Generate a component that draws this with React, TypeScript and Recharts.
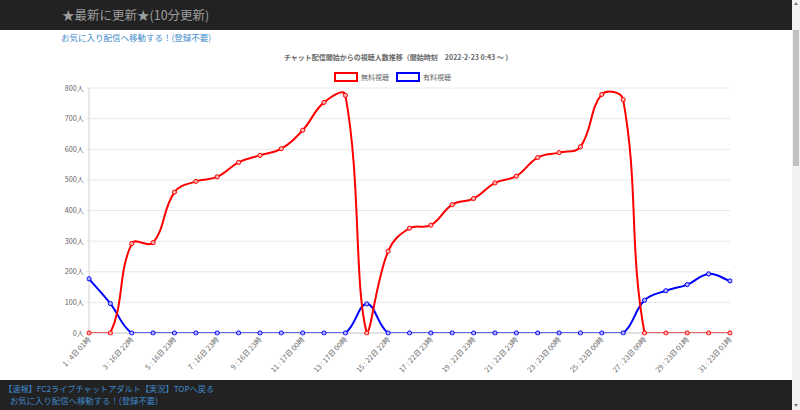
import { CartesianGrid, Line, LineChart, XAxis, YAxis } from "recharts";

const slots = [
  "1 : 4日 01時", "2 : 16日 22時", "3 : 16日 22時", "4 : 16日 22時", "5 : 16日 23時",
  "6 : 16日 23時", "7 : 16日 23時", "8 : 16日 23時", "9 : 16日 23時", "10 : 17日 00時",
  "11 : 17日 00時", "12 : 17日 00時", "13 : 17日 00時", "14 : 17日 00時", "15 : 22日 22時",
  "16 : 22日 22時", "17 : 22日 23時", "18 : 22日 23時", "19 : 22日 23時", "20 : 22日 23時",
  "21 : 22日 23時", "22 : 23日 00時", "23 : 23日 00時", "24 : 23日 00時", "25 : 23日 00時",
  "26 : 23日 00時", "27 : 23日 00時", "28 : 23日 01時", "29 : 23日 01時", "30 : 23日 01時",
  "31 : 23日 01時"
];

const freeViewers = [
  0, 0, 292, 295, 460, 495, 510, 557, 580, 602,
  662, 753, 776, 0, 267, 342, 352, 419, 439, 490,
  512, 573, 589, 608, 779, 762, 0, 0, 0, 0, 0
];

const paidViewers = [
  177, 96, 0, 0, 0, 0, 0, 0, 0, 0,
  0, 0, 0, 95, 0, 0, 0, 0, 0, 0,
  0, 0, 0, 0, 0, 0, 107, 138, 158, 193, 170
];

const yTicks = [0, 100, 200, 300, 400, 500, 600, 700, 800];

const rows = slots.map((slot, i) => ({ slot, free: freeViewers[i], paid: paidViewers[i] }));

const red = "#ff0000";
const blue = "#0000ff";
const muted = "#666666";
const grid = "#e8e8e8";
const font = "'Noto Sans CJK JP', 'Noto Sans', sans-serif";

// chart.js (v2) style spline: tension 0.4, control points capped to the drawn range
function splineCurve(context: any) {
  let pts: { x: number; y: number }[] = [];
  return {
    areaStart() {},
    areaEnd() {},
    lineStart() {
      pts = [];
    },
    point(x: number, y: number) {
      pts.push({ x: +x, y: +y });
    },
    lineEnd() {
      if (pts.length === 0) return;
      const t = 0.4;
      const minX = Math.min(...pts.map((p) => p.x));
      const maxX = Math.max(...pts.map((p) => p.x));
      const maxY = Math.max(...pts.map((p) => p.y));
      const capX = (v: number) => Math.max(Math.min(v, maxX), minX);
      const capY = (v: number) => Math.min(v, maxY);
      const cps = pts.map((cur, i) => {
        const prev = pts[i - 1] || cur;
        const next = pts[i + 1] || cur;
        const d01 = Math.hypot(cur.x - prev.x, cur.y - prev.y);
        const d12 = Math.hypot(next.x - cur.x, next.y - cur.y);
        let s01 = d01 / (d01 + d12);
        let s12 = d12 / (d01 + d12);
        if (isNaN(s01)) s01 = 0;
        if (isNaN(s12)) s12 = 0;
        const fa = t * s01;
        const fb = t * s12;
        return {
          px: capX(cur.x - fa * (next.x - prev.x)),
          py: capY(cur.y - fa * (next.y - prev.y)),
          nx: capX(cur.x + fb * (next.x - prev.x)),
          ny: capY(cur.y + fb * (next.y - prev.y))
        };
      });
      context.moveTo(pts[0].x, pts[0].y);
      for (let i = 1; i < pts.length; i++) {
        context.bezierCurveTo(cps[i - 1].nx, cps[i - 1].ny, cps[i].px, cps[i].py, pts[i].x, pts[i].y);
      }
    }
  };
}

function SlotTick({ x, y, payload }: any) {
  return (
    <g transform={`translate(${x},${y})`}>
      <text transform="rotate(-47)" textAnchor="end" dy={3} fontSize={7.2} fill={muted} stroke="none" fontFamily={font}>
        {payload.value}
      </text>
    </g>
  );
}

function verticalLines({ xAxis }: any) {
  const scale = xAxis?.scale;
  if (typeof scale !== "function") return [];
  return slots
    .filter((_, i) => i % 2 === 0)
    .map((s) => scale(s))
    .filter((v: number) => Number.isFinite(v));
}

function LegendBox({ color, label }: { color: string; label: string }) {
  return (
    <span style={{ display: "inline-flex", alignItems: "center", marginRight: 7 }}>
      <span style={{ width: 20, height: 6, border: `2px solid ${color}`, background: "#fff", marginRight: 3 }} />
      <span style={{ fontSize: 7, color: muted }}>{label}</span>
    </span>
  );
}

export default function App() {
  return (
    <div style={{ position: "absolute", left: 0, top: 0, width: 800, height: 410, background: "#fff", overflow: "hidden", fontFamily: font }}>
      <div style={{ position: "absolute", left: 0, top: 0, width: 792, height: 30, background: "#222" }}>
        <div style={{ position: "absolute", left: 62, top: 6, fontSize: 12.5, color: "#9d9d9d", whiteSpace: "nowrap", lineHeight: "18px" }}>
          ★最新に更新★(10分更新)
        </div>
      </div>
      <div style={{ position: "absolute", left: 61, top: 31, fontSize: 8.5, color: "#428bca", whiteSpace: "nowrap", lineHeight: "12px" }}>
        お気に入り配信へ移動する！(登録不要)
      </div>

      <div style={{ position: "absolute", left: 0, top: 52, width: 792, textAlign: "center", fontSize: 7, fontWeight: "bold", color: muted, whiteSpace: "nowrap", lineHeight: "10px" }}>
        チャット配信開始からの視聴人数推移（開始時刻　2022-2-23 0:43 ～ )
      </div>
      <div style={{ position: "absolute", left: 0, top: 72, width: 792, display: "flex", justifyContent: "center", lineHeight: "10px" }}>
        <LegendBox color={red} label="無料視聴" />
        <LegendBox color={blue} label="有料視聴" />
      </div>

      <div style={{ position: "absolute", left: 0, top: 30 }}>
        <LineChart width={792} height={350} data={rows} margin={{ top: 58, right: 62, left: 0, bottom: 0 }}>
          <CartesianGrid stroke={grid} verticalCoordinatesGenerator={verticalLines} />
          <XAxis
            dataKey="slot"
            interval={1}
            height={47}
            tick={<SlotTick />}
            tickSize={4}
            tickMargin={1}
            tickLine={{ stroke: grid }}
            axisLine={{ stroke: "#cfcfcf" }}
          />
          <YAxis
            domain={[0, 800]}
            ticks={yTicks}
            allowDataOverflow
            width={89}
            tickSize={3}
            tickMargin={2}
            tickLine={{ stroke: grid }}
            axisLine={{ stroke: "#cfcfcf" }}
            tick={{ fill: muted, stroke: "none", fontSize: 7.2, fontFamily: font }}
            tickFormatter={(v) => `${v}人`}
          />
          <Line
            dataKey="paid"
            type={splineCurve as any}
            stroke={blue}
            strokeWidth={2}
            dot={{ r: 2.1, stroke: blue, strokeWidth: 1, fill: "#b4b4ff", clipDot: false }}
            activeDot={false}
            isAnimationActive={false}
          />
          <Line
            dataKey="free"
            type={splineCurve as any}
            stroke={red}
            strokeWidth={2}
            dot={{ r: 2.1, stroke: red, strokeWidth: 1, fill: "#ffb4b4", clipDot: false }}
            activeDot={false}
            isAnimationActive={false}
          />
        </LineChart>
      </div>

      <div style={{ position: "absolute", left: 0, top: 380, width: 792, height: 30, background: "#222" }}>
        <div style={{ position: "absolute", left: 4, top: 2, fontSize: 8.2, color: "#3f87c8", whiteSpace: "nowrap", lineHeight: "12px" }}>
          【速報】FC2ライブチャットアダルト【実況】TOPへ戻る
        </div>
        <div style={{ position: "absolute", left: 10, top: 14, fontSize: 8.4, color: "#3f87c8", whiteSpace: "nowrap", lineHeight: "12px" }}>
          お気に入り配信へ移動する！(登録不要)
        </div>
      </div>

      <div style={{ position: "absolute", left: 792, top: 0, width: 8, height: 410, background: "#f1f1f1" }}>
        <div style={{ position: "absolute", left: 1, top: 30, width: 6, height: 136, background: "#c1c1c1" }} />
        <div style={{ position: "absolute", left: 2, top: 2, width: 0, height: 0, borderLeft: "2px solid transparent", borderRight: "2px solid transparent", borderBottom: "3px solid #777" }} />
        <div style={{ position: "absolute", left: 2, top: 404, width: 0, height: 0, borderLeft: "2px solid transparent", borderRight: "2px solid transparent", borderTop: "3px solid #777" }} />
      </div>
    </div>
  );
}
